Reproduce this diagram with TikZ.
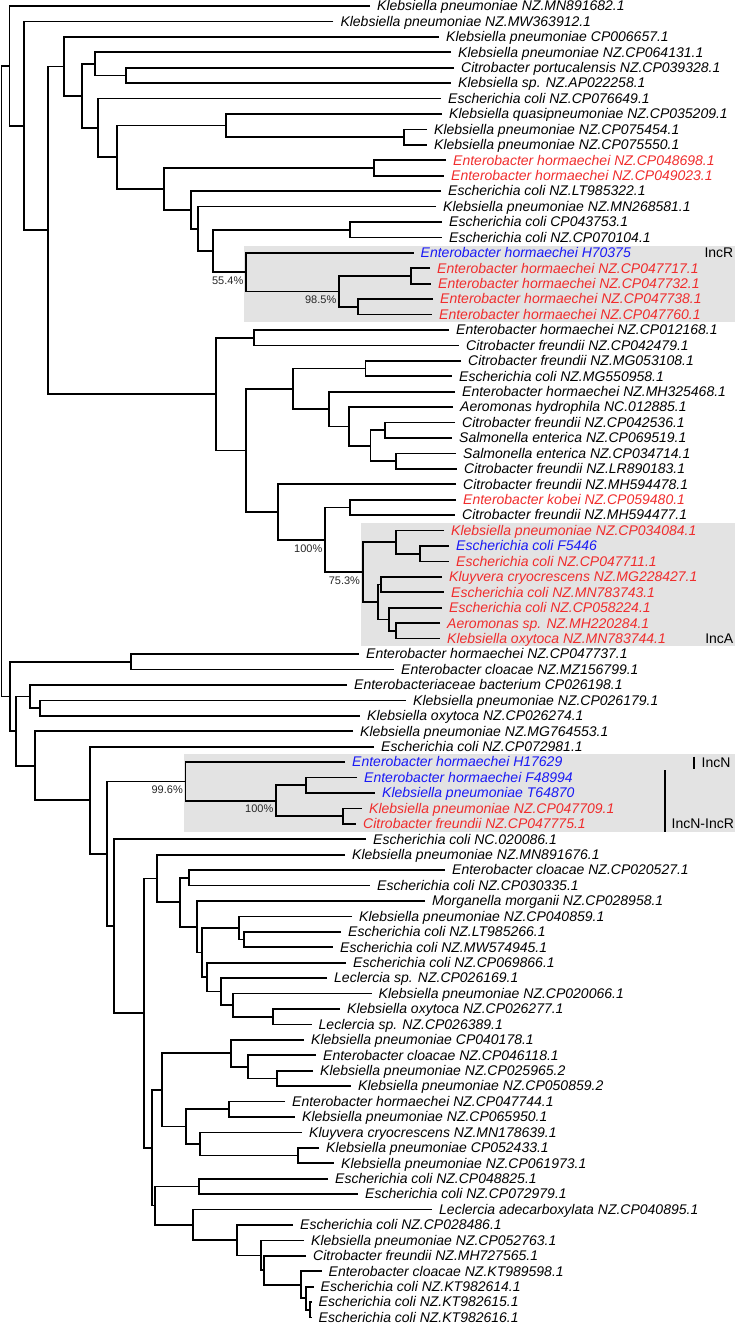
\documentclass[tikz,border=0pt]{standalone}
\usepackage{fontspec}
\setmainfont{Liberation Sans}
\usetikzlibrary{calc}
\definecolor{incred}{RGB}{240,45,45}
\definecolor{incblue}{RGB}{25,25,245}
\definecolor{boxgrey}{RGB}{227,227,227}
\tikzset{
  branch/.style={line width=1.7pt},
  leaflab/.style={anchor=base west, inner sep=0pt, xshift=7pt, yshift=-4.8pt, font=\fontsize{14}{16}\selectfont\itshape},
  boot/.style={anchor=east, inner sep=0pt, xshift=-2.5pt, yshift=-8.5pt, font=\fontsize{11}{13}\selectfont, text=black!85},
  inclab/.style={inner sep=0pt, font=\fontsize{14}{16}\selectfont},
  incbar/.style={line width=1.7pt}
}
\newcommand\mkleaf[5]{%
  \coordinate (#1) at (#3,{6+(#2-1)*15.43});
  \node[leaflab,text=#4] (#1t) at (#1) {#5};}
\newcommand\mknode[4]{%
  \path let \p1=(#3), \p2=(#4) in (#2pt,{(\y1+\y2)/2}) coordinate (#1);
  \draw[branch] (#3) -| (#1) |- (#4);}
\begin{document}
\begin{tikzpicture}[x=1pt,y=-1pt]
\useasboundingbox (0,0) rectangle (735,1323);
% grey boxes
\fill[boxgrey] (244.3,246) rectangle (735,322.3);
\fill[boxgrey] (361,522.7) rectangle (735,645.7);
\fill[boxgrey] (184,754.3) rectangle (735,832.3);
% leaves
\mkleaf{l1}{1}{370}{black}{Klebsiella pneumoniae NZ.MN891682.1}
\mkleaf{l2}{2}{333.3}{black}{Klebsiella pneumoniae NZ.MW363912.1}
\mkleaf{l3}{3}{439}{black}{Klebsiella pneumoniae CP006657.1}
\mkleaf{l4}{4}{451}{black}{Klebsiella pneumoniae NZ.CP064131.1}
\mkleaf{l5}{5}{454}{black}{Citrobacter portucalensis NZ.CP039328.1}
\mkleaf{l6}{6}{451}{black}{Klebsiella sp. NZ.AP022258.1}
\mkleaf{l7}{7}{441}{black}{Escherichia coli NZ.CP076649.1}
\mkleaf{l8}{8}{442}{black}{Klebsiella quasipneumoniae NZ.CP035209.1}
\mkleaf{l9}{9}{427}{black}{Klebsiella pneumoniae NZ.CP075454.1}
\mkleaf{l10}{10}{427}{black}{Klebsiella pneumoniae NZ.CP075550.1}
\mkleaf{l11}{11}{446}{incred}{Enterobacter hormaechei NZ.CP048698.1}
\mkleaf{l12}{12}{444}{incred}{Enterobacter hormaechei NZ.CP049023.1}
\mkleaf{l13}{13}{441}{black}{Escherichia coli NZ.LT985322.1}
\mkleaf{l14}{14}{436}{black}{Klebsiella pneumoniae NZ.MN268581.1}
\mkleaf{l15}{15}{442}{black}{Escherichia coli CP043753.1}
\mkleaf{l16}{16}{442}{black}{Escherichia coli NZ.CP070104.1}
\mkleaf{l17}{17}{413.5}{incblue}{Enterobacter hormaechei H70375}
\mkleaf{l18}{18}{430}{incred}{Enterobacter hormaechei NZ.CP047717.1}
\mkleaf{l19}{19}{431}{incred}{Enterobacter hormaechei NZ.CP047732.1}
\mkleaf{l20}{20}{433}{incred}{Enterobacter hormaechei NZ.CP047738.1}
\mkleaf{l21}{21}{432}{incred}{Enterobacter hormaechei NZ.CP047760.1}
\mkleaf{l22}{22}{449}{black}{Enterobacter hormaechei NZ.CP012168.1}
\mkleaf{l23}{23}{459}{black}{Citrobacter freundii NZ.CP042479.1}
\mkleaf{l24}{24}{461}{black}{Citrobacter freundii NZ.MG053108.1}
\mkleaf{l25}{25}{452}{black}{Escherichia coli NZ.MG550958.1}
\mkleaf{l26}{26}{455}{black}{Enterobacter hormaechei NZ.MH325468.1}
\mkleaf{l27}{27}{453}{black}{Aeromonas hydrophila NC.012885.1}
\mkleaf{l28}{28}{455}{black}{Citrobacter freundii NZ.CP042536.1}
\mkleaf{l29}{29}{452}{black}{Salmonella enterica NZ.CP069519.1}
\mkleaf{l30}{30}{456}{black}{Salmonella enterica NZ.CP034714.1}
\mkleaf{l31}{31}{457}{black}{Citrobacter freundii NZ.LR890183.1}
\mkleaf{l32}{32}{456}{black}{Citrobacter freundii NZ.MH594478.1}
\mkleaf{l33}{33}{456}{incred}{Enterobacter kobei NZ.CP059480.1}
\mkleaf{l34}{34}{455}{black}{Citrobacter freundii NZ.MH594477.1}
\mkleaf{l35}{35}{444}{incred}{Klebsiella pneumoniae NZ.CP034084.1}
\mkleaf{l36}{36}{449}{incblue}{Escherichia coli F5446}
\mkleaf{l37}{37}{449}{incred}{Escherichia coli NZ.CP047711.1}
\mkleaf{l38}{38}{442}{incred}{Kluyvera cryocrescens NZ.MG228427.1}
\mkleaf{l39}{39}{444}{incred}{Escherichia coli NZ.MN783743.1}
\mkleaf{l40}{40}{442}{incred}{Escherichia coli NZ.CP058224.1}
\mkleaf{l41}{41}{440}{incred}{Aeromonas sp. NZ.MH220284.1}
\mkleaf{l42}{42}{440}{incred}{Klebsiella oxytoca NZ.MN783744.1}
\mkleaf{l43}{43}{359}{black}{Enterobacter hormaechei NZ.CP047737.1}
\mkleaf{l44}{44}{394}{black}{Enterobacter cloacae NZ.MZ156799.1}
\mkleaf{l45}{45}{347}{black}{Enterobacteriaceae bacterium CP026198.1}
\mkleaf{l46}{46}{406}{black}{Klebsiella pneumoniae NZ.CP026179.1}
\mkleaf{l47}{47}{360}{black}{Klebsiella oxytoca NZ.CP026274.1}
\mkleaf{l48}{48}{353}{black}{Klebsiella pneumoniae NZ.MG764553.1}
\mkleaf{l49}{49}{374}{black}{Escherichia coli NZ.CP072981.1}
\mkleaf{l50}{50}{345}{incblue}{Enterobacter hormaechei H17629}
\mkleaf{l51}{51}{357}{incblue}{Enterobacter hormaechei F48994}
\mkleaf{l52}{52}{375}{incblue}{Klebsiella pneumoniae T64870}
\mkleaf{l53}{53}{362}{incred}{Klebsiella pneumoniae NZ.CP047709.1}
\mkleaf{l54}{54}{356}{incred}{Citrobacter freundii NZ.CP047775.1}
\mkleaf{l55}{55}{366}{black}{Escherichia coli NC.020086.1}
\mkleaf{l56}{56}{345}{black}{Klebsiella pneumoniae NZ.MN891676.1}
\mkleaf{l57}{57}{445}{black}{Enterobacter cloacae NZ.CP020527.1}
\mkleaf{l58}{58}{370}{black}{Escherichia coli NZ.CP030335.1}
\mkleaf{l59}{59}{425}{black}{Morganella morganii NZ.CP028958.1}
\mkleaf{l60}{60}{352}{black}{Klebsiella pneumoniae NZ.CP040859.1}
\mkleaf{l61}{61}{341}{black}{Escherichia coli NZ.LT985266.1}
\mkleaf{l62}{62}{333}{black}{Escherichia coli NZ.MW574945.1}
\mkleaf{l63}{63}{346}{black}{Escherichia coli NZ.CP069866.1}
\mkleaf{l64}{64}{327}{black}{Leclercia sp. NZ.CP026169.1}
\mkleaf{l65}{65}{371.5}{black}{Klebsiella pneumoniae NZ.CP020066.1}
\mkleaf{l66}{66}{340}{black}{Klebsiella oxytoca NZ.CP026277.1}
\mkleaf{l67}{67}{311.5}{black}{Leclercia sp. NZ.CP026389.1}
\mkleaf{l68}{68}{304}{black}{Klebsiella pneumoniae CP040178.1}
\mkleaf{l69}{69}{316}{black}{Enterobacter cloacae NZ.CP046118.1}
\mkleaf{l70}{70}{313}{black}{Klebsiella pneumoniae NZ.CP025965.2}
\mkleaf{l71}{71}{351}{black}{Klebsiella pneumoniae NZ.CP050859.2}
\mkleaf{l72}{72}{285}{black}{Enterobacter hormaechei NZ.CP047744.1}
\mkleaf{l73}{73}{295}{black}{Klebsiella pneumoniae NZ.CP065950.1}
\mkleaf{l74}{74}{302}{black}{Kluyvera cryocrescens NZ.MN178639.1}
\mkleaf{l75}{75}{319}{black}{Klebsiella pneumoniae CP052433.1}
\mkleaf{l76}{76}{334}{black}{Klebsiella pneumoniae NZ.CP061973.1}
\mkleaf{l77}{77}{328}{black}{Escherichia coli NZ.CP048825.1}
\mkleaf{l78}{78}{358}{black}{Escherichia coli NZ.CP072979.1}
\mkleaf{l79}{79}{432}{black}{Leclercia adecarboxylata NZ.CP040895.1}
\mkleaf{l80}{80}{293}{black}{Escherichia coli NZ.CP028486.1}
\mkleaf{l81}{81}{304}{black}{Klebsiella pneumoniae NZ.CP052763.1}
\mkleaf{l82}{82}{306}{black}{Citrobacter freundii NZ.MH727565.1}
\mkleaf{l83}{83}{321.5}{black}{Enterobacter cloacae NZ.KT989598.1}
\mkleaf{l84}{84}{313.5}{black}{Escherichia coli NZ.KT982614.1}
\mkleaf{l85}{85}{311.5}{black}{Escherichia coli NZ.KT982615.1}
\mkleaf{l86}{86}{311.5}{black}{Escherichia coli NZ.KT982616.1}
% internal nodes (children before parents)
\mknode{G}{126}{l5}{l6}
\mknode{F}{95}{l4}{G}
\mknode{K}{404}{l9}{l10}
\mknode{J}{226}{l8}{K}
\mknode{M}{374}{l11}{l12}
\mknode{Q}{350}{l15}{l16}
\mknode{T}{410.7}{l18}{l19}
\mknode{U}{358}{l20}{l21}
\mknode{S}{339}{T}{U}
\mknode{R}{246}{l17}{S}
\mknode{P}{213}{Q}{R}
\mknode{O}{198}{l14}{P}
\mknode{N}{191}{l13}{O}
\mknode{L}{164}{M}{N}
\mknode{I}{117}{J}{L}
\mknode{H}{98}{l7}{I}
\mknode{E}{82}{F}{H}
\mknode{D}{64}{l3}{E}
\mknode{W}{254}{l22}{l23}
\mknode{Z}{365.5}{l24}{l25}
\mknode{AD}{385}{l28}{l29}
\mknode{AE}{396}{l30}{l31}
\mknode{AC}{370.5}{AD}{AE}
\mknode{AB}{349}{l27}{AC}
\mknode{AA}{329}{l26}{AB}
\mknode{Y}{293}{Z}{AA}
\mknode{BC}{350}{l33}{l34}
\mknode{BF}{420}{l36}{l37}
\mknode{BE}{396}{l35}{BF}
\mknode{BH}{380.7}{l38}{l39}
\mknode{BJ}{396}{l41}{l42}
\mknode{BI}{389.3}{l40}{BJ}
\mknode{BG}{378.3}{BH}{BI}
\mknode{BD}{362.7}{BE}{BG}
\mknode{BB}{325}{BC}{BD}
\mknode{BA}{278}{l32}{BB}
\mknode{X}{246}{Y}{BA}
\mknode{V}{216}{W}{X}
\mknode{C}{48}{D}{V}
\mknode{B}{24}{l2}{C}
\mknode{A}{9.5}{l1}{B}
\mknode{CB}{131}{l43}{l44}
\mknode{CE}{40}{l46}{l47}
\mknode{CD}{30}{l45}{CE}
\mknode{CK}{306}{l51}{l52}
\mknode{CL}{343}{l53}{l54}
\mknode{CJ}{276}{CK}{CL}
\mknode{CI}{185.5}{l50}{CJ}
\mknode{CQ}{189.3}{l57}{l58}
\mknode{CU}{244.3}{l61}{l62}
\mknode{CT}{239}{l60}{CU}
\mknode{CY}{273.3}{l66}{l67}
\mknode{CX}{233.3}{l65}{CY}
\mknode{CW}{220.7}{l64}{CX}
\mknode{CV}{207.3}{l63}{CW}
\mknode{CS}{202.3}{CT}{CV}
\mknode{CR}{196.7}{l59}{CS}
\mknode{CP}{180}{CQ}{CR}
\mknode{CO}{157.3}{l56}{CP}
\mknode{DD}{277.3}{l70}{l71}
\mknode{DC}{247.7}{l69}{DD}
\mknode{DB}{231}{l68}{DC}
\mknode{DF}{229.3}{l72}{l73}
\mknode{DH}{297.7}{l75}{l76}
\mknode{DG}{200}{l74}{DH}
\mknode{DE}{185.7}{DF}{DG}
\mknode{DA}{161.7}{DB}{DE}
\mknode{DJ}{199}{l77}{l78}
\mknode{DQ}{310}{l85}{l86}
\mknode{DP}{306}{l84}{DQ}
\mknode{DO}{301}{l83}{DP}
\mknode{DN}{264.3}{l82}{DO}
\mknode{DM}{261.3}{l81}{DN}
\mknode{DL}{236.7}{l80}{DM}
\mknode{DK}{192.7}{l79}{DL}
\mknode{DI}{155}{DJ}{DK}
\mknode{CZ}{152}{DA}{DI}
\mknode{CN}{144}{CO}{CZ}
\mknode{CM}{114}{l55}{CN}
\mknode{CH}{107}{CI}{CM}
\mknode{CG}{90}{l49}{CH}
\mknode{CF}{35}{l48}{CG}
\mknode{CC}{16}{CD}{CF}
\mknode{CA}{10}{CB}{CC}
\mknode{ROOT}{1.5}{A}{CA}
% bootstrap values
\node[boot] (bR) at (R) {55.4\%};
\node[boot] (bS) at (S) {98.5\%};
\node[boot] (bBB) at (BB) {100\%};
\node[boot] (bBD) at (BD) {75.3\%};
\node[boot] (bCI) at (CI) {99.6\%};
\node[boot] (bCJ) at (CJ) {100\%};
% Inc labels
\node[inclab, anchor=base east] (incR) at (733.5,257.7) {IncR};
\node[inclab, anchor=base east] (incA) at (733.5,643.5) {IncA};
\coordinate (nb1) at (694.3,756.5);
\coordinate (nb2) at (694.3,769);
\draw[incbar] (nb1) -- (nb2);
\node[inclab, anchor=base west] (incN) at (701.5,767.3) {IncN};
\coordinate (rb1) at (665.3,770);
\coordinate (rb2) at (665.3,831.7);
\draw[incbar] (rb1) -- (rb2);
\node[inclab, anchor=base west] (incNR) at (671.5,828.5) {IncN-IncR};
\end{tikzpicture}
\end{document}
